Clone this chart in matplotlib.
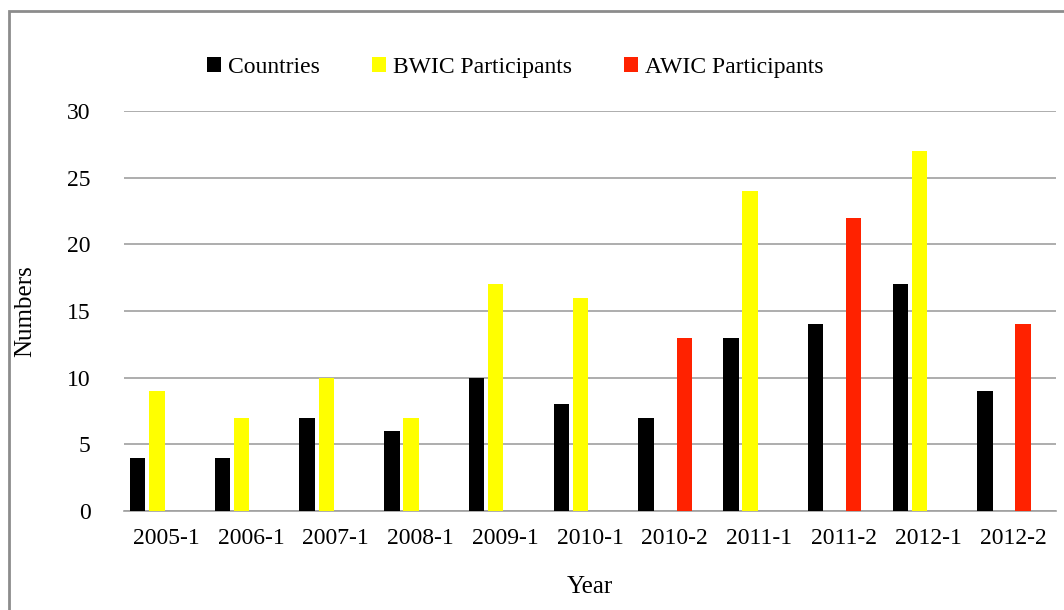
import numpy as np
import matplotlib.pyplot as plt
from matplotlib.patches import Rectangle

plt.rcParams['font.family'] = ['Liberation Serif', 'DejaVu Serif']

years = ['2005-1', '2006-1', '2007-1', '2008-1', '2009-1', '2010-1',
         '2010-2', '2011-1', '2011-2', '2012-1', '2012-2']
countries = [4, 4, 7, 6, 10, 8, 7, 13, 14, 17, 9]
bwic = [9, 7, 10, 7, 17, 16, 0, 24, 0, 27, 0]
awic = [0, 0, 0, 0, 0, 0, 13, 0, 22, 0, 14]

fig = plt.figure(figsize=(10.64, 6.10), dpi=100)
ax = fig.add_axes([0.1165, 0.1623, 0.876, 0.6557])

# gray frame around the chart (runs off the right and bottom edges)
fig.patches.append(Rectangle((9/1064, -0.05), 1.2, 1 - 11/610 + 0.05,
                             transform=fig.transFigure, fill=False,
                             edgecolor='#8c8c8c', linewidth=2, zorder=0))

x = np.arange(len(years))
step = 0.225
w = 0.182
series = [(countries, 'black', 'Countries'),
          (bwic, '#ffff00', 'BWIC Participants'),
          (awic, '#ff2200', 'AWIC Participants')]
for i, (vals, col, lab) in enumerate(series):
    ax.bar(x + (i - 1.5) * step, vals, width=w, color=col, label=lab, zorder=3)

ax.set_xlim(-0.5, len(years) - 0.5)
ax.set_ylim(0, 30)
ax.set_yticks(range(0, 31, 5))
ax.set_xticks(x)
ax.set_xticklabels(years)
ax.yaxis.grid(True, color='#a0a0a0', linewidth=1.2)
ax.set_axisbelow(True)
for s in ['left', 'right', 'top']:
    ax.spines[s].set_visible(False)
ax.spines['bottom'].set_color('#a0a0a0')
ax.spines['bottom'].set_linewidth(1.2)
ax.tick_params(axis='both', length=0, labelsize=17)
ax.tick_params(axis='y', pad=24)
ax.tick_params(axis='x', pad=12)
ax.set_ylabel('Numbers', fontsize=18, labelpad=22)
ax.set_xlabel('Year', fontsize=18, labelpad=20)

ax.legend(loc='lower center', bbox_to_anchor=(0.42, 1.03), ncol=3, frameon=False,
          fontsize=17, handlelength=0.6, handleheight=0.6, handletextpad=0.3,
          columnspacing=2.2)

fig.savefig('out.png', dpi=100)
